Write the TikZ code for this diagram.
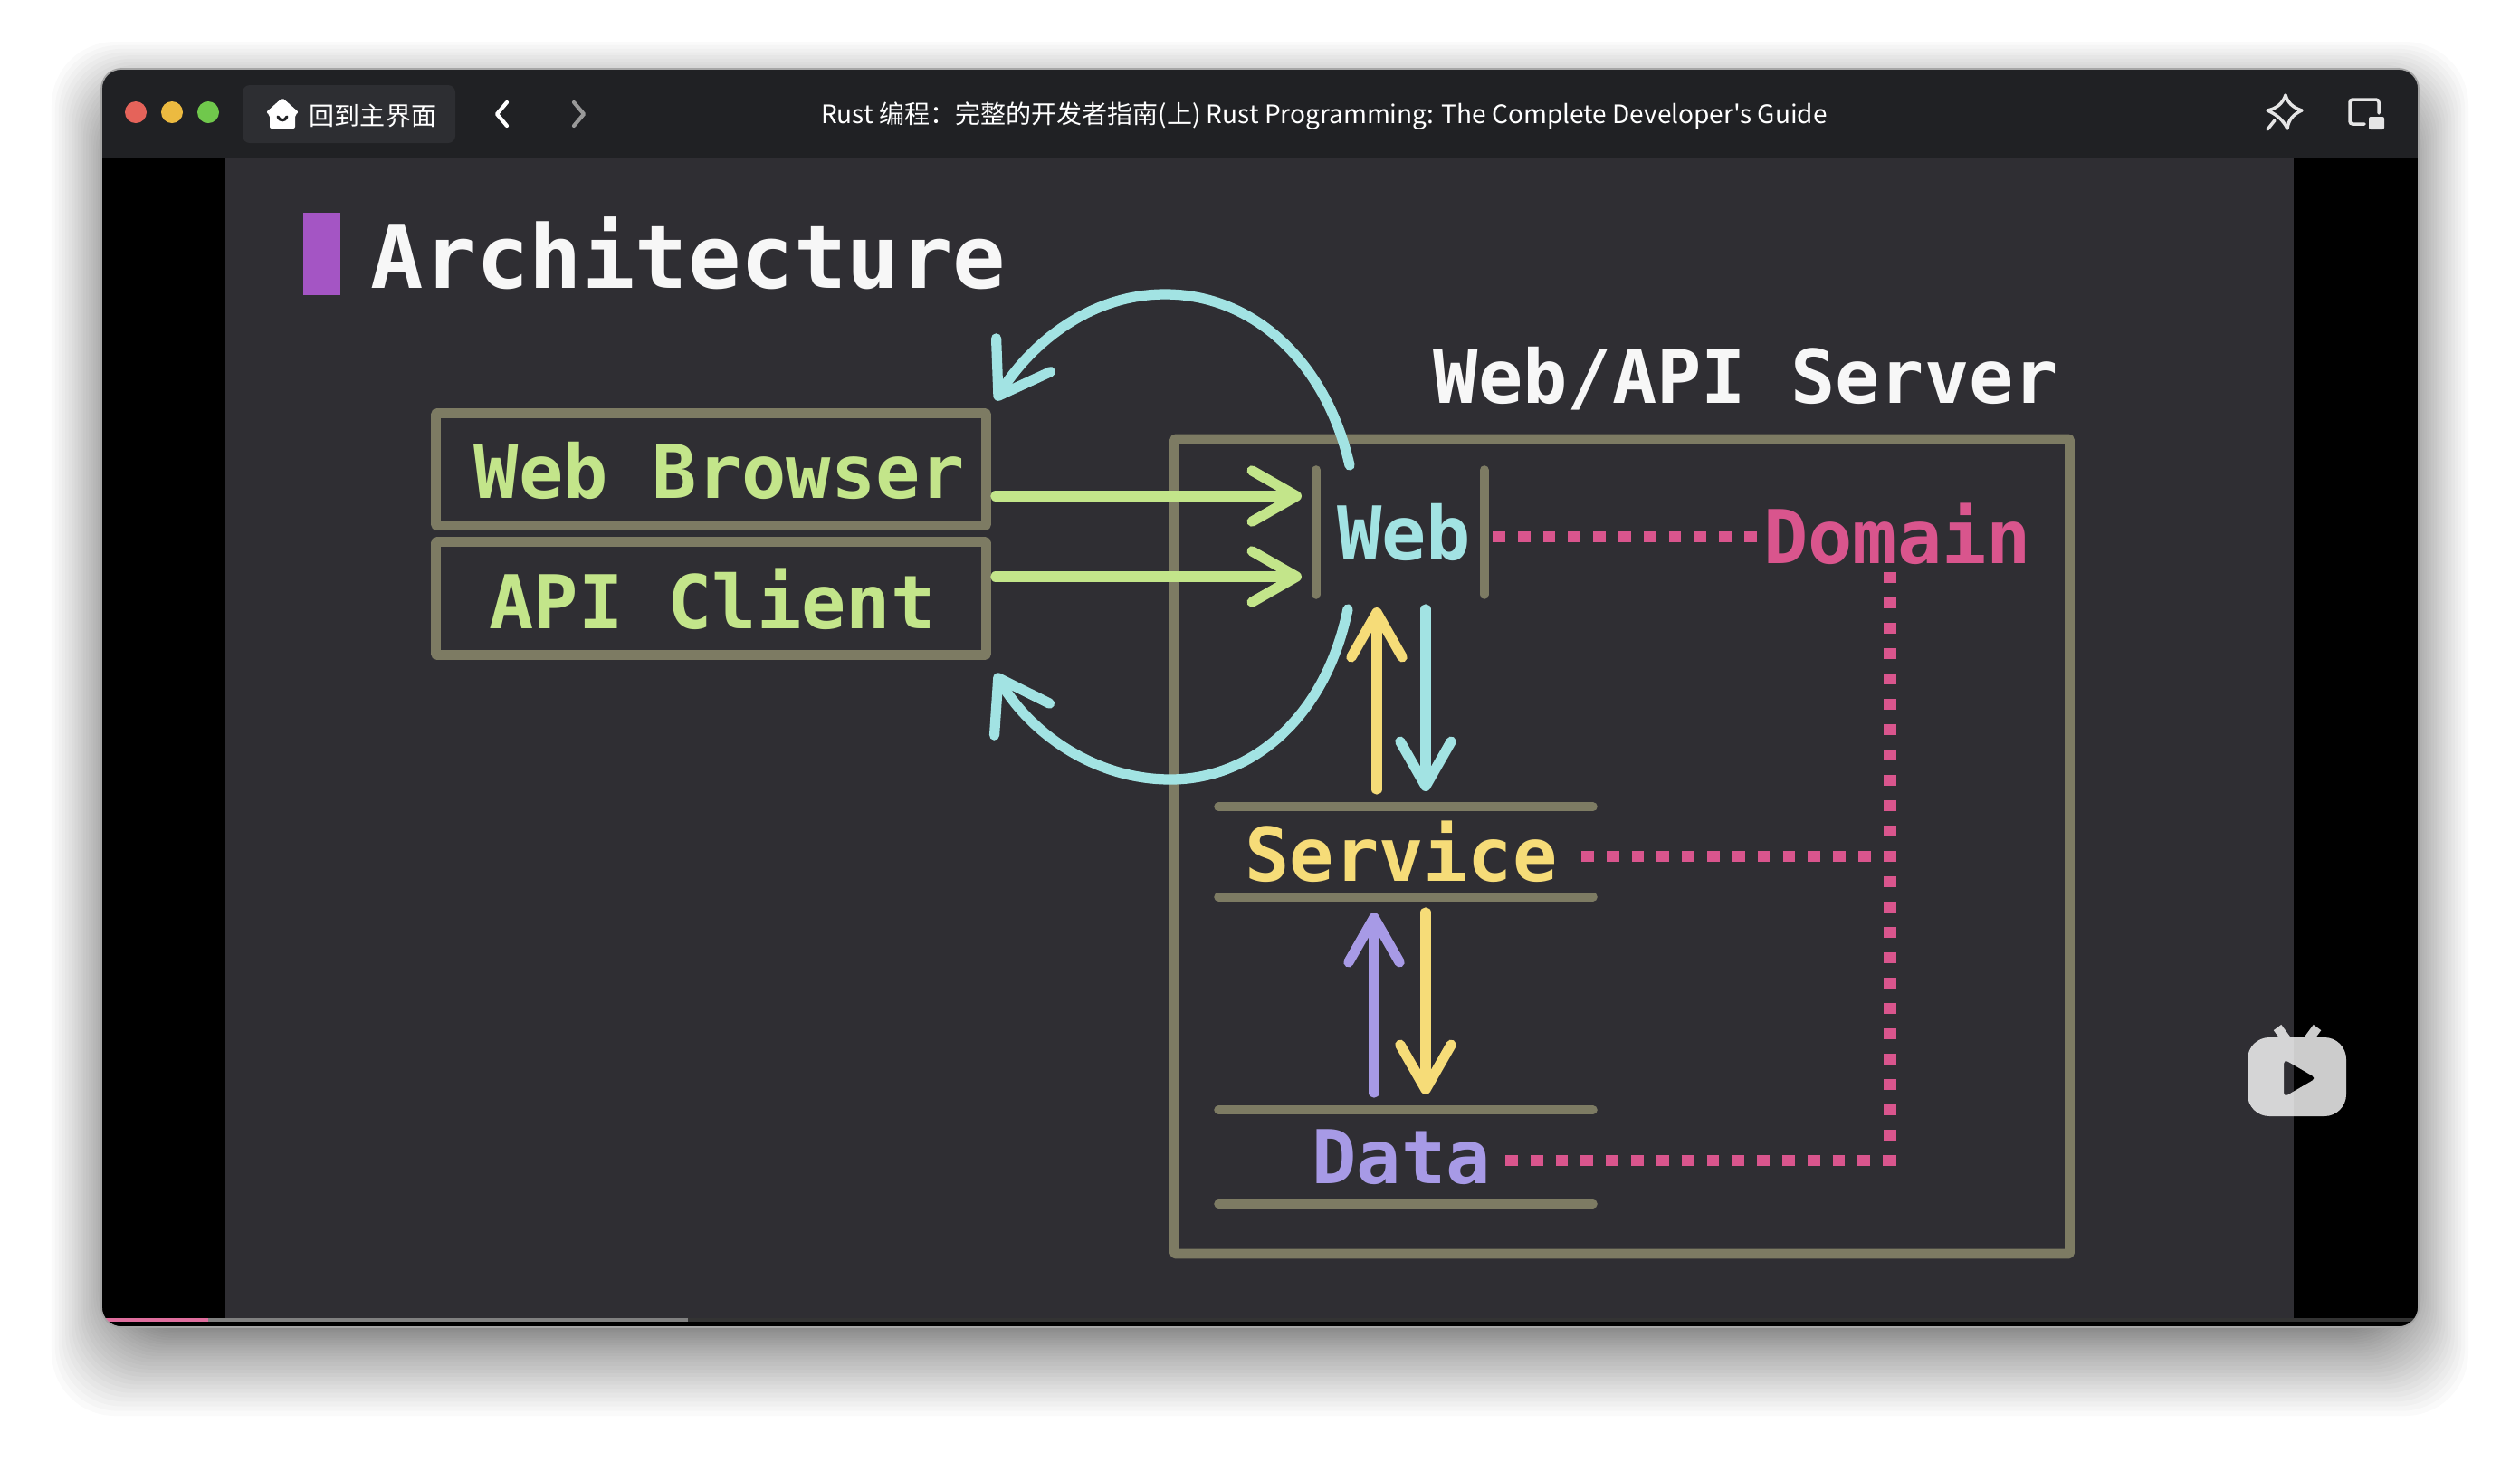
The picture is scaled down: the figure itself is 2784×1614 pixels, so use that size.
\documentclass[tikz,border=0pt]{standalone}
\usepackage{xcolor}
\usepackage{fontspec}
\setmonofont{DejaVu Sans Mono}
\newfontfamily\cjk{Noto Sans CJK SC}
\usetikzlibrary{arrows.meta}
\definecolor{barbg}{HTML}{202124}
\definecolor{tabbg}{HTML}{2D2E32}
\definecolor{slidebg}{HTML}{2F2E33}
\definecolor{boxc}{HTML}{7D7B63}
\definecolor{greenc}{HTML}{C3E58A}
\definecolor{cyanc}{HTML}{A2E3E3}
\definecolor{yellowc}{HTML}{F6DC78}
\definecolor{purplec}{HTML}{A79AE6}
\definecolor{pinkc}{HTML}{D9558D}
\definecolor{accentc}{HTML}{A455C4}
\definecolor{shadowc}{HTML}{1C1B1F}
\definecolor{redlight}{HTML}{E5635A}
\definecolor{amberlight}{HTML}{ECBA40}
\definecolor{greenlight}{HTML}{70C84C}
\begin{document}
\begin{tikzpicture}[x=0.01cm, y=-0.01cm, line cap=round,
  label/.style={font=\ttfamily\bfseries\fontsize{23.3}{28}\selectfont, inner sep=0pt},
  box/.style={draw=boxc, line width=3.1pt, rounded corners=0.02cm, minimum width=0.01cm*608, minimum height=0.01cm*124},
  rule/.style={draw=boxc, line width=2.9pt},
  arr/.style={line width=3.2pt, preaction={draw=shadowc, transform canvas={shift={(0.9pt,-0.9pt)}}}, -{Straight Barb[length=14pt, width=16pt, line width=3.2pt, round]}},
  arc/.style={arr, -{Straight Barb[length=15pt, width=20pt, line width=3.2pt, round]}},
  hlink/.style={draw=pinkc, line width=3.4pt, line cap=butt, dash pattern=on 3.9pt off 4.01pt},
  vlink/.style={draw=pinkc, line width=3.95pt, line cap=butt, dash pattern=on 3.41pt off 4.55pt},
  ui/.style={text=white, inner sep=0pt, font=\cjk\fontsize{7.97}{10}\selectfont}]
\useasboundingbox (0,0) rectangle (2784,1614);
\fill[white] (0,0) rectangle (2784,1614);
% window shadow
\foreach \i [evaluate=\i as \d using 0.05*\i*\i] in {1,...,40}
  \fill[black, opacity=0.018, rounded corners=0.7cm] (137-\d,126-\d) rectangle (2647+\d,1456+1.35*\d);
\begin{scope}
\clip[rounded corners=0.22cm] (112,76) rectangle (2672,1466);
\fill[black] (112,76) rectangle (2672,1466);
\fill[barbg] (112,76) rectangle (2672,174);
\fill[slidebg] (249,174) rectangle (2534,1456);
\fill[gray!40!black] (760,1456) rectangle (2672,1460);
\fill[pinkc!85!white] (112,1456) rectangle (230,1460);
\fill[gray] (230,1456) rectangle (760,1460);
\end{scope}
\draw[gray!70, line width=0.5pt, rounded corners=0.22cm] (112,76) rectangle (2672,1466);
% title bar
\fill[redlight] (150,124) circle (12);
\fill[amberlight] (190,124) circle (12);
\fill[greenlight] (230,124) circle (12);
\fill[tabbg, rounded corners=0.08cm] (268,94) rectangle (503,158);
\fill[white, rounded corners=0.02cm] (312,108) -- (330,124) -- (326,127) -- (326,142) -- (298,142) -- (298,127) -- (294,124) -- cycle;
\draw[barbg, line width=0.9pt] (307,129) .. controls (309,134) and (315,134) .. (317,129);
\node[ui] (home) at (412,128) {回到主界面};
\draw[white, line width=1.2pt, line join=round] (560,113) -- (549,126) -- (560,139);
\draw[gray!80, line width=1.2pt, line join=round] (634,113) -- (645,126) -- (634,139);
\node[ui] (title) at (1463,128) {Rust 编程：完整的开发者指南(上) Rust Programming: The Complete Developer's Guide};
\draw[white!90!black, line width=1pt, line join=round] (2525,105) .. controls (2527,113) and (2533,119) .. (2543,122) .. controls (2534,126) and (2528,132) .. (2527,142) .. controls (2522,132) and (2514,126) .. (2505,122) .. controls (2515,120) and (2522,114) .. cycle;
\draw[white!90!black, line width=1pt] (2513,133) -- (2505,143);
\draw[white!90!black, line width=1pt, rounded corners=0.03cm] (2628,125) -- (2628,110) -- (2596,110) -- (2596,137) -- (2612,137);
\fill[white!90!black, rounded corners=0.02cm] (2617,129) rectangle (2634,143);
% slide heading
\fill[accentc] (335,235) rectangle (376,326);
\node[label, anchor=base west, text=white!97!black, font=\ttfamily\bfseries\fontsize{27.6}{32}\selectfont] (heading) at (409,318) {Architecture};
% clients
\node[box] (browser) at (785.5,518.5) {};
\node[label, text=greenc] (browsertext) at (795,520) {Web Browser};
\node[box, minimum height=0.01cm*125] (client) at (785.5,661) {};
\node[label, text=greenc] (clienttext) at (787,662) {API Client};
% server
\node[box, minimum width=0.01cm*989, minimum height=0.01cm*900] (server) at (1792,935) {};
\node[label, text=white!97!black] (servertitle) at (1929,418) {Web/API Server};
% layers
\node[label, text=cyanc, minimum width=0.01cm*184, minimum height=0.01cm*136] (web) at (1547,588) {\hspace*{0.08cm}Web};
\draw[rule] (web.north west) -- (web.south west);
\draw[rule] (web.north east) -- (web.south east);
\node[label, text=yellowc, minimum width=0.01cm*412, minimum height=0.01cm*98] (service) at (1553,941) {Service\hspace*{0.1cm}};
\draw[rule] (service.north west) -- (service.north east);
\draw[rule] (service.south west) -- (service.south east);
\node[label, text=purplec, minimum width=0.01cm*412, minimum height=0.01cm*102] (data) at (1553,1278) {Data\hspace*{0.1cm}};
\draw[rule] (data.north west) -- (data.north east);
\draw[rule] (data.south west) -- (data.south east);
\node[label, text=pinkc] (domain) at (2096,590) {Domain};
% requests and responses
\coordinate (webA) at (1438,548);
\coordinate (webB) at (1438,637);
\draw[arr, greenc, shorten <=1.4pt] (browser.east |- webA) -- (webA);
\draw[arr, greenc, shorten <=1.4pt] (client.east |- webB) -- (webB);
\coordinate (topstart) at (1491,514);
\coordinate (toppeak) at (1287,325);
\coordinate (topend) at (1100,442);
\coordinate (botstart) at (1489,673);
\coordinate (botpeak) at (1293,861);
\coordinate (botend) at (1100,744);
\draw[arc, cyanc] (topstart) .. controls (1465,400) and (1385,325) .. (toppeak) .. controls (1200,325) and (1135,385) .. (topend);
\draw[arc, cyanc] (botstart) .. controls (1465,790) and (1385,861) .. (botpeak) .. controls (1205,861) and (1135,805) .. (botend);
\coordinate (upA) at (1521,671);
\coordinate (downA) at (1575,874);
\coordinate (upB) at (1518,1008);
\coordinate (downB) at (1575,1209);
\draw[arr, yellowc] (1521,872) -- (upA);
\draw[arr, cyanc] (1575,673) -- (downA);
\draw[arr, purplec] (1518,1207) -- (upB);
\draw[arr, yellowc] (1575,1008) -- (downB);
% domain links
\coordinate (turnS) at (2095,946);
\coordinate (turnD) at (2095,1282);
\draw[hlink] (1649,593) -- (domain.west |- 0,593);
\draw[vlink] (2088,632) -- (2088,1288);
\draw[hlink] (1747,946) -- (turnS);
\draw[hlink] (1663,1282) -- (turnD);
% player badge
\begin{scope}[transparency group, opacity=0.8]
\fill[white, even odd rule, rounded corners=0.24cm] (2483,1146) rectangle (2592,1233) [rounded corners=0.05cm] (2523,1170) -- (2523,1212) -- (2559,1191) -- cycle;
\draw[white, line width=3pt] (2516,1135) -- (2527,1150);
\draw[white, line width=3pt] (2560,1135) -- (2549,1150);
\end{scope}
\end{tikzpicture}
\end{document}
